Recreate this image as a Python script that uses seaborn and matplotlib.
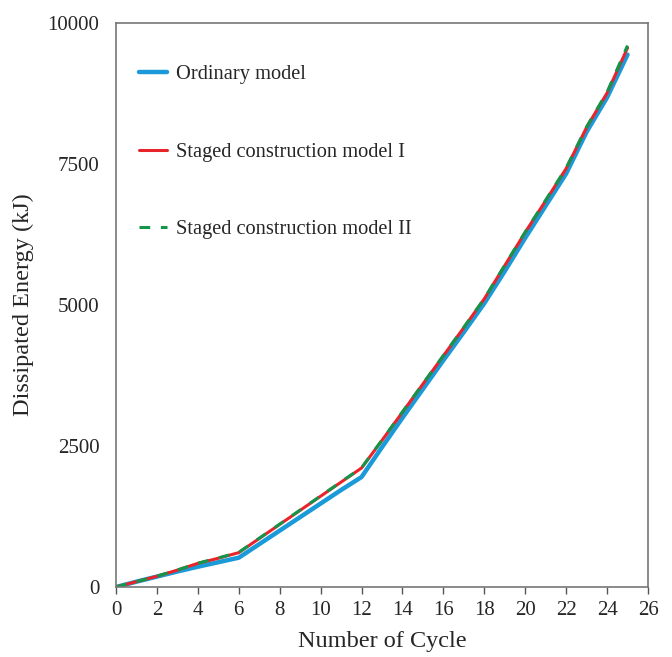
import numpy as np
import pandas as pd
import matplotlib
matplotlib.use("Agg")
import matplotlib.pyplot as plt
import seaborn as sns

# Datos
ciclos = list(range(0, 26))
ordinario = [0, 95, 185, 275, 360, 440, 520, 760, 1000, 1240, 1480, 1720, 1950,
             2480, 3000, 3510, 4020, 4520, 5030, 5600, 6190, 6760, 7330, 8070, 8680, 9440]
etapas_1 = [0, 95, 190, 300, 420, 510, 610, 860, 1110, 1360, 1610, 1860, 2110,
            2600, 3100, 3600, 4100, 4600, 5110, 5700, 6290, 6850, 7420, 8150, 8760, 9560]
etapas_2 = [0, 95, 192, 302, 422, 515, 615, 865, 1115, 1365, 1615, 1865, 2115,
            2605, 3105, 3605, 4105, 4605, 5115, 5705, 6295, 6860, 7430, 8160, 8775, 9600]
etiquetas = ["Ordinary model", "Staged construction model I", "Staged construction model II"]

df = pd.DataFrame({"ciclo": ciclos, "a": ordinario, "b": etapas_1, "c": etapas_2})

sns.set_style("white")
plt.rcParams["font.family"] = ["Liberation Serif", "DejaVu Serif"]

fig = plt.figure(figsize=(6.72, 6.57), dpi=100)
ax = fig.add_axes([0.1726, 0.1065, 0.7917, 0.8585])

sns.lineplot(data=df, x="ciclo", y="a", ax=ax, color="#1a9ad8", linewidth=3.2, label=etiquetas[0])
sns.lineplot(data=df, x="ciclo", y="b", ax=ax, color="#e8242b", linewidth=2.2, label=etiquetas[1])
sns.lineplot(data=df, x="ciclo", y="c", ax=ax, color="#14964a", linewidth=2.2,
             linestyle=(0, (3.5, 3.5)), label=etiquetas[2])

ax.set_xlim(0, 26)
ax.set_ylim(0, 10000)
ax.set_xticks(range(0, 27, 2))
ax.set_yticks([0, 2500, 5000, 7500, 10000])
ax.tick_params(axis="x", direction="out", length=5, width=1, color="#555555",
               labelsize=15, pad=5, bottom=True)
ax.tick_params(axis="y", length=0, labelsize=15, pad=12)
for s in ax.spines.values():
    s.set_color("#777777")
    s.set_linewidth(1.2)

ax.set_xlabel("Number of Cycle", fontsize=17.5, labelpad=8)
ax.set_ylabel("Dissipated Energy (kJ)", fontsize=17.5, labelpad=10)

ax.legend(loc="upper left", frameon=False, fontsize=14.7, handlelength=1.35,
          labelspacing=2.85, handletextpad=0.45, borderaxespad=0.0,
          bbox_to_anchor=(0.028, 0.94))

fig.savefig("out.png", dpi=100)
